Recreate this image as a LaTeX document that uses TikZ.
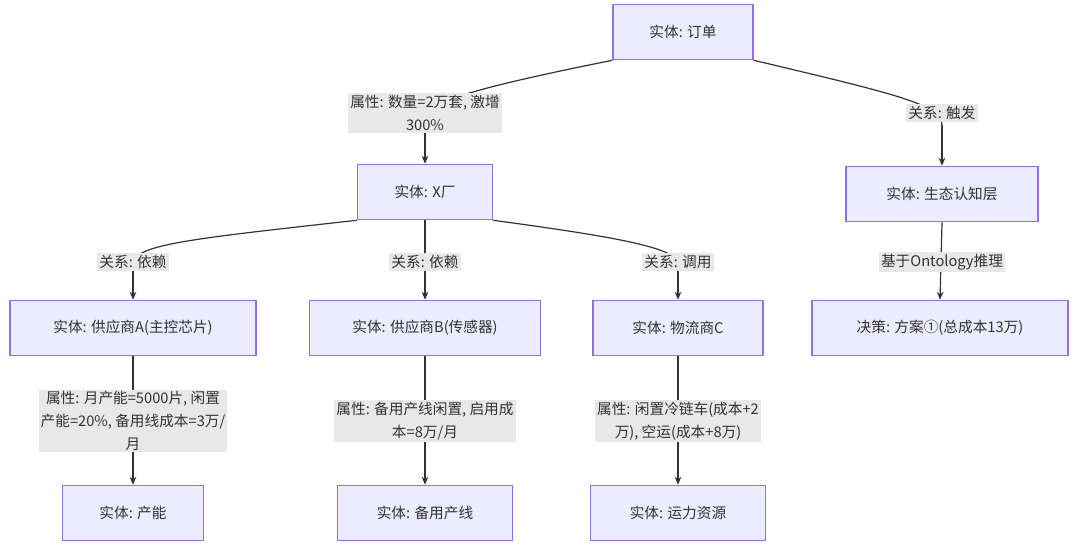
\documentclass[tikz,border=0pt]{standalone}
\usepackage{fontspec}
\setmainfont{Noto Sans CJK SC}
\usetikzlibrary{arrows.meta}
\definecolor{nfill}{HTML}{ECECFF}
\definecolor{nbord}{HTML}{9370DB}
\definecolor{edge}{HTML}{333333}
\definecolor{lbl}{HTML}{E8E8E8}
\begin{document}
\begin{tikzpicture}[x=0.75pt,y=-0.75pt,
  ent/.style={draw=nbord,fill=nfill,line width=0.9pt,minimum height=41.5pt,inner sep=0pt,font=\fontsize{11}{14}\selectfont,text=edge},
  lab/.style={fill=lbl,inner sep=1.5pt,align=center,font=\fontsize{11}{17}\selectfont,text=edge},
  e/.style={draw=edge,line width=0.9pt,-{Stealth[length=6pt,width=5pt]}},
  l/.style={draw=edge,line width=0.9pt}]
\useasboundingbox (0,0) rectangle (1080,549);
\node[ent,minimum width=105pt] (order) at (683,32) {实体: 订单};
\node[ent,minimum width=101pt] (xf) at (425,192) {实体: X厂};
\node[ent,minimum width=144pt] (eco) at (942,194) {实体: 生态认知层};
\node[ent,minimum width=184.5pt] (a) at (133,328) {实体: 供应商A(主控芯片)};
\node[ent,minimum width=173pt] (b) at (425,328) {实体: 供应商B(传感器)};
\node[ent,minimum width=127.5pt] (c) at (678,328) {实体: 物流商C};
\node[ent,minimum width=192pt] (dec) at (940,328) {决策: 方案①(总成本13万)};
\node[ent,minimum width=106pt] (cap) at (133,513) {实体: 产能};
\node[ent,minimum width=131pt] (line) at (425,513) {实体: 备用产线};
\node[ent,minimum width=131pt] (tr) at (678,513) {实体: 运力资源};
% edges
\draw[l] (order.south west) .. controls (440,95) and (425,105) .. (425,125);
\draw[e] (425,125) -- (xf.north);
\draw[l] (order.south east) .. controls (900,95) and (942,105) .. (942,125);
\draw[e] (942,125) -- (eco.north);
\draw[l] (xf.south west) .. controls (180,240) and (133,245) .. (133,265);
\draw[e] (133,265) -- (a.north);
\draw[e] (xf.south) -- (b.north);
\draw[l] (xf.south east) .. controls (640,240) and (678,250) .. (678,265);
\draw[e] (678,265) -- (c.north);
\draw[e] (eco.south) -- (dec.north);
\draw[e] (a.south) -- (cap.north);
\draw[e] (b.south) -- (line.north);
\draw[e] (c.south) -- (tr.north);
% labels
\node[lab] (l1) at (425,113) {属性: 数量=2万套, 激增\\300\%};
\node[lab] (l2) at (942,113) {关系: 触发};
\node[lab] (l3) at (133,262) {关系: 依赖};
\node[lab] (l4) at (425,262) {关系: 依赖};
\node[lab] (l5) at (678,262) {关系: 调用};
\node[lab] (l6) at (942,262) {基于Ontology推理};
\node[lab] (l7) at (133,421) {属性: 月产能=5000片, 闲置\\产能=20\%, 备用线成本=3万/\\月};
\node[lab] (l8) at (425,421) {属性: 备用产线闲置, 启用成\\本=8万/月};
\node[lab] (l9) at (678,421) {属性: 闲置冷链车(成本+2\\万), 空运(成本+8万)};
\end{tikzpicture}
\end{document}
